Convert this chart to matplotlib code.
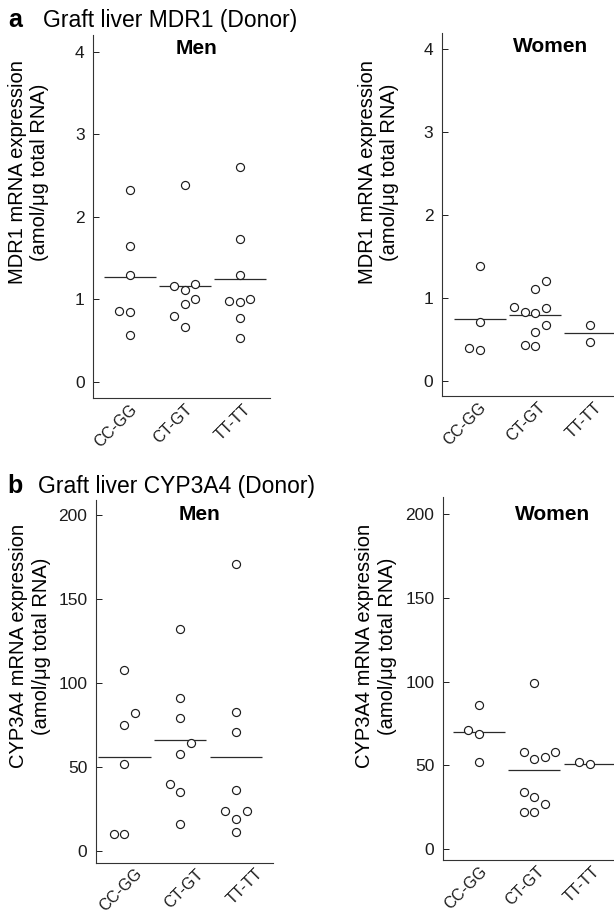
import matplotlib
matplotlib.use('Agg')
import matplotlib.pyplot as plt

plt.rcParams['font.family'] = ['Liberation Sans', 'DejaVu Sans']

# ---------------- data ----------------
genotypes = ['CC-GG', 'CT-GT', 'TT-TT']

# (a) MDR1 expression, men
mdr1_men_values = [
    [2.32, 1.65, 1.29, 0.86, 0.84, 0.57],
    [2.38, 1.16, 1.11, 1.19, 1.00, 0.94, 0.80, 0.66],
    [2.60, 1.73, 1.29, 0.98, 0.97, 1.00, 0.77, 0.53],
]
mdr1_men_slots = [
    [0, 0, 0, -1, 0, 0],
    [0, -1, 0, 1, 1, 0, -1, 0],
    [0, 0, 0, -1, 0, 1, 0, 0],
]
mdr1_men_medians = [1.27, 1.16, 1.25]

# (a) MDR1 expression, women
mdr1_women_values = [
    [1.38, 0.71, 0.40, 0.37],
    [1.20, 1.10, 0.89, 0.88, 0.83, 0.82, 0.67, 0.59, 0.43, 0.42],
    [0.67, 0.47],
]
mdr1_women_slots = [
    [0, 0, -1, 0],
    [1, 0, -2, 1, -1, 0, 1, 0, -1, 0],
    [0, 0],
]
mdr1_women_medians = [0.74, 0.79, 0.57]

# (b) CYP3A4 expression, men
cyp_men_values = [
    [108, 82, 75, 52, 10, 10],
    [132, 91, 79, 64, 58, 40, 35, 16],
    [171, 83, 71, 36, 24, 24, 19, 11],
]
cyp_men_slots = [
    [0, 1, 0, 0, -1, 0],
    [0, 0, 0, 1, 0, -1, 0, 0],
    [0, 0, 0, 0, -1, 1, 0, 0],
]
cyp_men_medians = [56, 66, 56]

# (b) CYP3A4 expression, women
cyp_women_values = [
    [86, 71, 69, 52],
    [99, 58, 58, 55, 54, 34, 31, 27, 22, 22],
    [52, 51],
]
cyp_women_slots = [
    [0, -1, 0, 0],
    [0, -1, 2, 1, 0, -1, 0, 1, -1, 0],
    [-1, 0],
]
cyp_women_medians = [70, 47, 51]

mdr1_ticks = [0, 1, 2, 3, 4]
cyp_ticks = [0, 50, 100, 150, 200]

# ---------------- drawing ----------------
W, H = 614, 914
fig = plt.figure(figsize=(W / 100, H / 100), dpi=100)
fig.patch.set_facecolor('white')

SLOT = 0.19
HALF = 0.47
INK = '#1c1c1c'


def px_axes(left, top, right, bottom):
    return fig.add_axes([left / W, 1 - bottom / H, (right - left) / W, (bottom - top) / H])


def draw(ax, values, slots, medians, xlim, ylim, yticks, label_pos):
    for i, (vals, sl) in enumerate(zip(values, slots)):
        xc = i + 1
        xs = [xc + s * SLOT for s in sl]
        ax.hlines(medians[i], xc - HALF, xc + HALF, color='#2a2a2a', lw=0.9, zorder=2)
        ax.plot(xs, vals, 'o', mfc='white', mec=INK, ms=5.8, mew=0.85,
                ls='none', zorder=3, clip_on=False)
    ax.set_xlim(*xlim)
    ax.set_ylim(*ylim)
    ax.set_yticks(yticks)
    ax.set_yticklabels([str(t) for t in yticks], fontsize=12.5, color=INK)
    ax.set_xticks(label_pos)
    ax.set_xticklabels(genotypes, fontsize=11.5, rotation=45, ha='right', va='top',
                       rotation_mode='anchor', color=INK)
    ax.tick_params(axis='y', direction='in', length=4.5, width=0.7, pad=6, colors=INK)
    ax.tick_params(axis='x', length=0, pad=2.5)
    for s in ('top', 'right'):
        ax.spines[s].set_visible(False)
    for s in ('left', 'bottom'):
        ax.spines[s].set_linewidth(0.8)
        ax.spines[s].set_color('#333333')
    ax.set_facecolor('none')


ax1 = px_axes(93, 35, 270, 398.3)
draw(ax1, mdr1_men_values, mdr1_men_slots, mdr1_men_medians, (0.33, 3.55), (-0.2, 4.2),
     mdr1_ticks, [1, 2, 3.05])
ax2 = px_axes(441.7, 33.3, 620.9, 396)
draw(ax2, mdr1_women_values, mdr1_women_slots, mdr1_women_medians, (0.31, 3.55), (-0.185, 4.19),
     mdr1_ticks, [0.97, 2.05, 3.07])
ax3 = px_axes(95.7, 500, 273, 862.7)
draw(ax3, cyp_men_values, cyp_men_slots, cyp_men_medians, (0.49, 3.66), (-7, 209),
     cyp_ticks, [1.18, 2.27, 3.33])
ax4 = px_axes(442.7, 497.3, 623, 860)
draw(ax4, cyp_women_values, cyp_women_slots, cyp_women_medians, (0.35, 3.6), (-6.5, 210),
     cyp_ticks, [1.02, 2.04, 3.04])

# panel headers
fig.text(8 / W, 1 - 27 / H, 'a', fontsize=18, fontweight='bold', va='baseline', ha='left', color='black')
fig.text(43 / W, 1 - 27 / H, 'Graft liver MDR1 (Donor)', fontsize=16.5, va='baseline', ha='left', color='black')
fig.text(7 / W, 1 - 493 / H, 'b', fontsize=18, fontweight='bold', va='baseline', ha='left', color='black')
fig.text(38 / W, 1 - 493 / H, 'Graft liver CYP3A4 (Donor)', fontsize=16.5, va='baseline', ha='left', color='black')

# sub titles
for (x, y, t) in [(197, 54, 'Men'), (551, 52, 'Women'), (199.5, 520, 'Men'), (553, 520, 'Women')]:
    fig.text(x / W, 1 - y / H, t, fontsize=15, fontweight='bold', ha='center', va='baseline', color='black')

# y labels
ylab_mdr1 = 'MDR1 mRNA expression\n(amol/\u03bcg total RNA)'
ylab_cyp = 'CYP3A4 mRNA expression\n(amol/\u03bcg total RNA)'
for (x, y, t) in [(28.5, 172, ylab_mdr1), (378.5, 172, ylab_mdr1), (30, 646, ylab_cyp), (376, 646, ylab_cyp)]:
    fig.text(x / W, 1 - y / H, t, fontsize=14.5, rotation=90, ha='center', va='center',
             multialignment='center', linespacing=1.25, color='black')

fig.savefig('out.png', dpi=100, facecolor='white')
